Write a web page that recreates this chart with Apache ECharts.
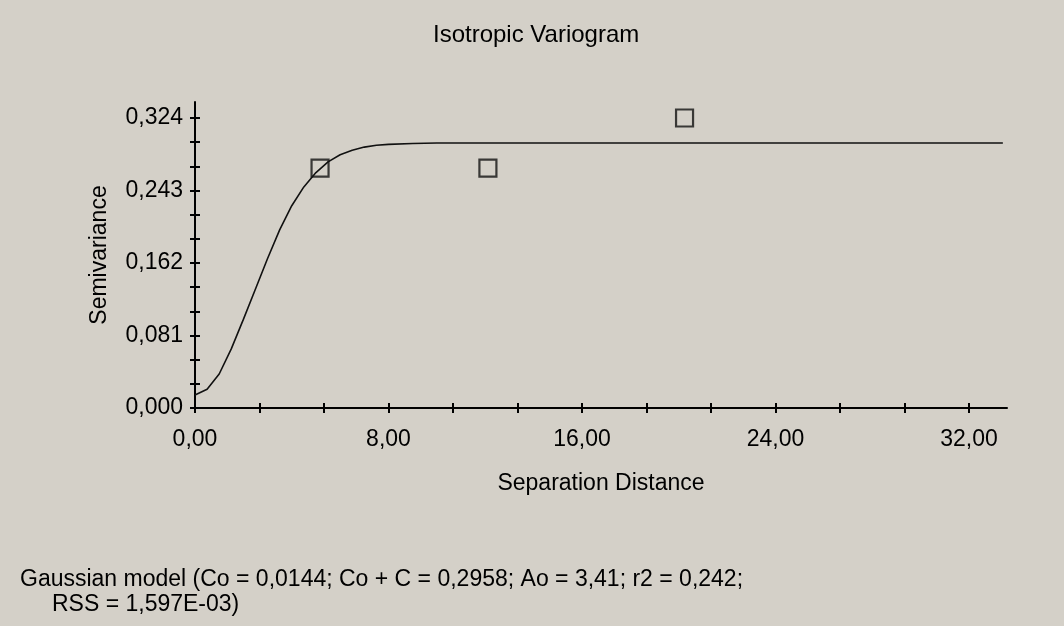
<!DOCTYPE html>
<html>
<head>
<meta charset="utf-8">
<script src="https://cdn.jsdelivr.net/npm/echarts@6/dist/echarts.min.js"></script>
<style>
html,body{margin:0;padding:0;background:#d4d0c8;}
#chart{width:1064px;height:626px;}
</style>
</head>
<body>
<div id="chart"></div>
<script>
// ---- data ----
var curveX = [0, 0.5, 1, 1.5, 2, 2.5, 3, 3.5, 4, 4.5, 5, 5.5, 6, 6.5, 7, 7.5, 8, 9, 10, 12, 16, 20, 24, 28, 32, 33.4];
var curveY = [0.0145, 0.021, 0.038, 0.066, 0.099, 0.133, 0.167, 0.199, 0.226, 0.247, 0.263, 0.275, 0.283, 0.288, 0.2915, 0.2935, 0.2945, 0.2955, 0.296, 0.296, 0.296, 0.296, 0.296, 0.296, 0.296, 0.296];
var pointX = [5.17, 12.11, 20.24];
var pointY = [0.268, 0.268, 0.324];
var xLabelValues = [0, 8, 16, 24, 32];
var yLabelValues = [0, 0.081, 0.162, 0.243, 0.324];
var titleText = 'Isotropic Variogram';
var xName = 'Separation Distance';
var yName = 'Semivariance';
var noteText = 'Gaussian model (Co = 0,0144; Co + C = 0,2958; Ao = 3,41; r2 = 0,242;\n     RSS = 1,597E-03)';

// ---- helpers ----
function subdivide(vals, parts) {
  var out = [];
  for (var i = 0; i < vals.length - 1; i++) {
    for (var k = 0; k < parts; k++) out.push(vals[i] + (vals[i + 1] - vals[i]) * k / parts);
  }
  out.push(vals[vals.length - 1]);
  return out;
}
var xTickValues = subdivide(xLabelValues, 3);
var yTickValues = subdivide(yLabelValues, 3);

var FONT = '"Liberation Sans", Arial, sans-serif';
var FS = 23;

// layout
var gLeft = 195, gBottomPx = 408, gRightPx = 1007, gTopPx = 102;
var lastXLabelPx = 969, lastYLabelPx = 118;
var xMax = xLabelValues[xLabelValues.length - 1] * (gRightPx - gLeft) / (lastXLabelPx - gLeft);
var yMax = yLabelValues[yLabelValues.length - 1] * (gBottomPx - gTopPx) / (gBottomPx - lastYLabelPx);

var curve = curveX.map(function (x, i) { return [x, curveY[i]]; });
var points = pointX.map(function (x, i) { return [x, pointY[i]]; });

var chart = echarts.init(document.getElementById('chart'), null, {renderer: 'canvas'});
var axisLineStyle = {color: '#000', width: 2};
chart.setOption({
  backgroundColor: '#d4d0c8',
  animation: false,
  textStyle: {fontFamily: FONT},
  title: [
    {text: titleText, left: 433, top: 23, padding: 0,
     textStyle: {fontFamily: FONT, fontSize: 24, fontWeight: 'normal', color: '#000'}},
    {text: noteText, left: 20, top: 567, padding: 0,
     textStyle: {fontFamily: FONT, fontSize: 23, fontWeight: 'normal', color: '#000', lineHeight: 25}}
  ],
  grid: {left: gLeft, top: gTopPx, right: 1064 - gRightPx, bottom: 626 - gBottomPx, containLabel: false},
  xAxis: [
    {type: 'value', min: 0, max: xMax, position: 'bottom',
     name: xName, nameLocation: 'middle', nameGap: 64,
     nameTextStyle: {fontFamily: FONT, fontSize: FS, color: '#000'},
     axisLine: {show: true, lineStyle: axisLineStyle},
     axisTick: {show: true, length: 5, inside: false, lineStyle: axisLineStyle, customValues: xTickValues},
     axisLabel: {show: true, margin: 20, fontFamily: FONT, fontSize: FS, color: '#000', customValues: xLabelValues,
       formatter: function (v) { return v.toFixed(2).replace('.', ','); }},
     splitLine: {show: false}},
    {type: 'value', min: 0, max: xMax, position: 'bottom', offset: 0,
     axisLine: {show: false},
     axisTick: {show: true, length: 5, inside: true, lineStyle: axisLineStyle, customValues: xTickValues},
     axisLabel: {show: false}, splitLine: {show: false}}
  ],
  yAxis: [
    {type: 'value', min: 0, max: yMax, position: 'left',
     name: yName, nameLocation: 'middle', nameGap: 84,
     nameTextStyle: {fontFamily: FONT, fontSize: FS, color: '#000'},
     axisLine: {show: true, lineStyle: axisLineStyle},
     axisTick: {show: true, length: 5, inside: false, lineStyle: axisLineStyle, customValues: yTickValues},
     axisLabel: {show: true, margin: 12, fontFamily: FONT, fontSize: FS, color: '#000', customValues: yLabelValues,
       formatter: function (v) { return v.toFixed(3).replace('.', ','); }},
     splitLine: {show: false}},
    {type: 'value', min: 0, max: yMax, position: 'left', offset: 0,
     axisLine: {show: false},
     axisTick: {show: true, length: 5, inside: true, lineStyle: axisLineStyle, customValues: yTickValues},
     axisLabel: {show: false}, splitLine: {show: false}}
  ],
  series: [
    {type: 'line', data: curve, xAxisIndex: 0, yAxisIndex: 0, showSymbol: false, smooth: false,
     lineStyle: {color: '#111', width: 1.6}, silent: true},
    {type: 'scatter', data: points, xAxisIndex: 0, yAxisIndex: 0, symbol: 'rect', symbolSize: 17,
     itemStyle: {color: 'rgba(0,0,0,0)', borderColor: '#111', borderWidth: 2.2}, z: 5}
  ]
});
</script>
</body>
</html>
